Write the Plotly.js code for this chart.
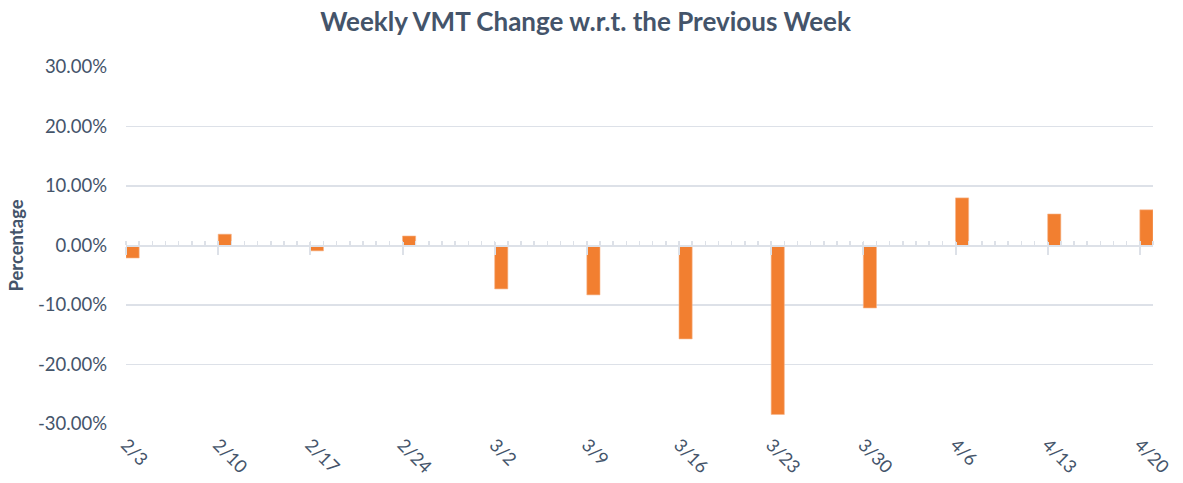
<!DOCTYPE html>
<html><head><meta charset="utf-8">
<script src="https://cdn.plot.ly/plotly-3.0.1.min.js"></script>
<style>body{margin:0;background:#fff}#c{width:1183px;height:483px}</style>
</head><body><div id="c"></div>
<script>
const weekStarts = ['2020-02-03','2020-02-10','2020-02-17','2020-02-24','2020-03-02','2020-03-09','2020-03-16','2020-03-23','2020-03-30','2020-04-06','2020-04-13','2020-04-20'];
const weekLabels = ['2/3','2/10','2/17','2/24','3/2','3/9','3/16','3/23','3/30','4/6','4/13','4/20'];
const vmtChange = [-2.1, 1.9, -0.9, 1.6, -7.3, -8.3, -15.7, -28.4, -10.5, 8.0, 5.3, 6.0];
const yTicks = [-30, -20, -10, 0, 10, 20, 30];

const DAY = 86400000;
const xRange = ['2020-02-03', '2020-04-21'];
const txt = '#44546a';
const grid = '#dde1e8';

const trace = {
  type: 'bar', x: weekStarts, y: vmtChange,
  width: weekStarts.map(() => DAY), offset: 0,
  marker: {color: '#f27f30', line: {color: '#f6b68c', width: 0.6}},
  hoverinfo: 'x+y'
};
const t2 = {type:'scatter', x:[xRange[0]], y:[0], xaxis:'x2', yaxis:'y', mode:'markers', marker:{opacity:0}, hoverinfo:'skip'};
const t3 = {type:'scatter', x:[xRange[0]], y:[0], xaxis:'x3', yaxis:'y', mode:'markers', marker:{opacity:0}, hoverinfo:'skip'};

const layout = {
  width: 1183, height: 483,
  margin: {l: 126, r: 30, t: 67, b: 59},
  paper_bgcolor: '#fff', plot_bgcolor: '#fff',
  showlegend: false,
  title: {text: '<b>Weekly VMT Change w.r.t. the Previous Week</b>', x: 0.495, xref: 'container', y: 0.954, yref: 'container', yanchor: 'middle',
          font: {family: 'Lato, sans-serif', size: 26, color: txt}},
  font: {family: 'Lato, sans-serif', color: txt},
  xaxis: {
    type: 'date', range: xRange, tickmode: 'array', tickvals: weekStarts, ticktext: weekLabels,
    tickangle: 45, showgrid: false, zeroline: false, showline: false, ticks: '',
    tickfont: {size: 18, color: txt}, ticklabelstandoff: 6
  },
  xaxis2: {
    type: 'date', range: xRange, overlaying: 'x', anchor: 'free', position: 0.5,
    showline: true, linecolor: grid, linewidth: 2, showgrid: false, zeroline: false,
    showticklabels: false, tickmode: 'linear', tick0: '2020-02-03', dtick: 7*DAY,
    ticks: 'outside', ticklen: 8, tickwidth: 2, tickcolor: grid,
    minor: {tick0: '2020-02-03', dtick: DAY, ticks: 'inside', ticklen: 4, tickwidth: 1.5, tickcolor: grid}
  },
  xaxis3: {
    type: 'date', range: xRange, overlaying: 'x', anchor: 'free', position: 0.5,
    showline: false, showgrid: false, zeroline: false, showticklabels: false,
    tickmode: 'linear', tick0: '2020-02-03', dtick: 7*DAY,
    ticks: 'inside', ticklen: 4, tickwidth: 2, tickcolor: grid
  },
  yaxis: {
    range: [-30, 30], tickvals: yTicks, ticktext: yTicks.map(v => v.toFixed(2) + '%'),
    showgrid: true, gridcolor: grid, gridwidth: 1.5, zeroline: false, showline: false,
    tickfont: {size: 18.5, color: txt}, ticks: '', ticklabelstandoff: 18,
    title: {text: '<b>Percentage</b>', font: {size: 18.5, color: txt}, standoff: 9}
  },
  bargap: 0
};
Plotly.newPlot('c', [trace, t2, t3], layout, {staticPlot: true, displayModeBar: false});
</script></body></html>
